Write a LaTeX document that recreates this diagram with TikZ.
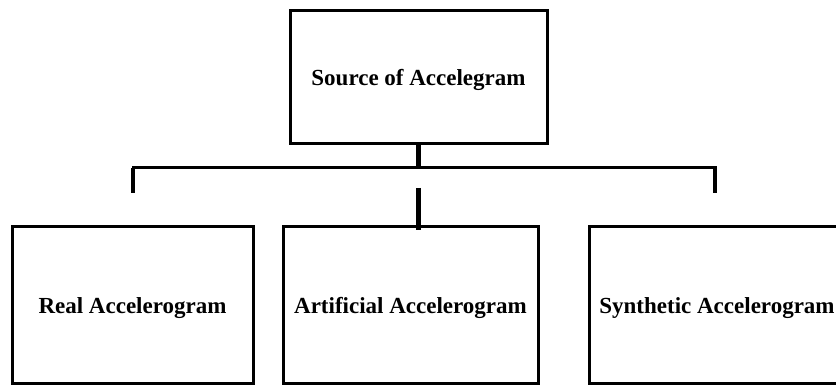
\documentclass[tikz,border=0pt]{standalone}
\usepackage{fontspec}
\setmainfont{Liberation Serif}
\begin{document}
\begin{tikzpicture}[x=1pt,y=1pt,
  box/.style={draw=black,line width=3pt,rectangle,inner sep=0pt,align=center,
    text height=21pt,text depth=5pt,
    font=\fontsize{23}{27}\selectfont\bfseries},
  busline/.style={draw=black,line width=3pt},
  stem/.style={draw=black,line width=5pt},
  drop/.style={draw=black,line width=4pt}]
\clip (0,0) rectangle (836,385);
\node[box,minimum width=257pt,minimum height=133pt] (src) at (418.5,307.5) {Source of Accelegram};
\node[box,minimum width=241pt,minimum height=157pt] (real) at (132.5,79.5) {Real Accelerogram};
\node[box,minimum width=255pt,minimum height=157pt] (art) at (410.5,79.5) {Artificial Accelerogram};
\node[box,minimum width=256pt,minimum height=157pt] (syn) at (717,79.5) {Synthetic Accelerogram};
\coordinate (busL) at (133,217);
\coordinate (busR) at (715,217);
\coordinate (busM) at (418,217);
\coordinate (dropL) at (133,192);
\coordinate (dropR) at (715,192);
\coordinate (midtop) at (418,197);
\coordinate (midbot) at (418,155);
\draw[stem] (src.south -| busM) -- (busM);
\draw[busline,line join=miter] (dropL) -- (busL) -- (busR) -- (dropR);
\draw[drop] (busL) -- (dropL);
\draw[drop] (busR) -- (dropR);
\draw[stem] (midtop) -- (midbot);
\end{tikzpicture}
\end{document}
